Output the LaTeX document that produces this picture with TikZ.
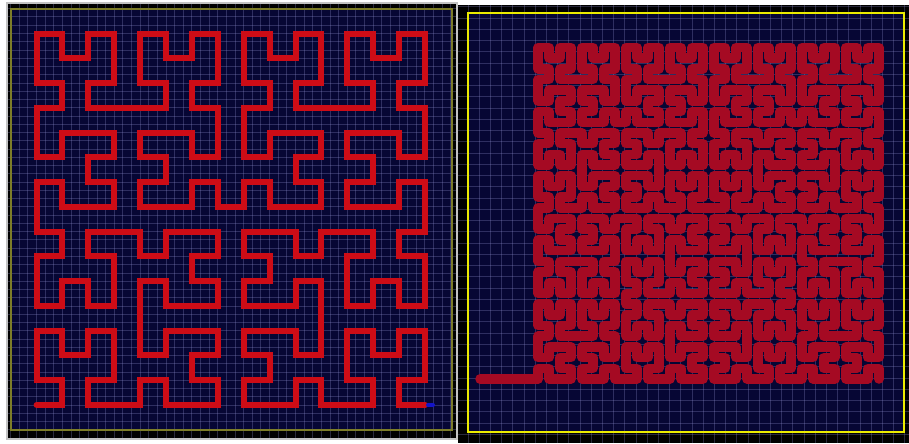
\documentclass[tikz,border=0pt]{standalone}
\usepackage{tikz}
\usetikzlibrary{lindenmayersystems}

\definecolor{navy}{RGB}{6,6,52}
\definecolor{gridcol}{RGB}{150,150,215}
\definecolor{hilred}{RGB}{205,12,22}
\definecolor{hilcrimson}{RGB}{165,10,35}
\definecolor{framegray}{RGB}{195,195,195}
\definecolor{dimyellow}{RGB}{125,125,40}
\definecolor{brightyellow}{RGB}{235,235,0}
\definecolor{endblue}{RGB}{20,20,200}

\pgfdeclarelindenmayersystem{Hilbert}{
  \rule{A -> +BF-AFA-FB+}
  \rule{B -> -AF+BFB+FA-}
}

\begin{document}
\begin{tikzpicture}[x=0.02cm, y=-0.02cm,
    gridline/.style={gridcol, opacity=0.28, line width=0.02cm},
    curveA/.style={hilred, line width=0.12cm, line cap=round, line join=miter},
    curveB/.style={hilcrimson, line width=0.19cm, line cap=round, line join=round}]
  \useasboundingbox (0,0) rectangle (909,443);
  \fill[white] (0,0) rectangle (909,443);
  % left panel, order 4
  \fill[black] (7,3) rectangle (457,439);
  \fill[navy] (11,9) rectangle (452,430);
  \foreach \gx in {10.7,19.33,...,457} \draw[gridline] (\gx,3) -- (\gx,439);
  \foreach \gy in {8.7,16.96,...,439} \draw[gridline] (7,\gy) -- (457,\gy);
  \draw[framegray, line width=0.03cm] (7,3) rectangle (457,439);
  \draw[dimyellow, line width=0.03cm] (11,9) rectangle (452,430);
  \begin{scope}[shift={(36.6,405)}, xscale=0.518, yscale=0.4954]
    \draw[curveA, lindenmayer system={Hilbert, axiom=A, order=4, step=1cm, angle=90}]
      (0,0) lindenmayer system;
  \end{scope}
  \coordinate (endA) at (425,405);
  \coordinate (markA) at (433,405);
  \draw[endblue, line width=0.08cm, line cap=round] (endA) ++(3,0) -- (markA);
  % right panel, order 5
  \fill[black] (458,5) rectangle (909,443);
  \fill[navy] (468,13) rectangle (904,432);
  \foreach \gx in {468,479.2,...,909} \draw[gridline] (\gx,5) -- (\gx,443);
  \foreach \gy in {6.75,18,...,443} \draw[gridline] (458,\gy) -- (909,\gy);
  \draw[brightyellow, line width=0.03cm] (468,13) rectangle (904,432);
  \coordinate (leadin) at (480,379);
  \coordinate (startB) at (538,379);
  \draw[curveB] (leadin) -- (startB);
  \begin{scope}[shift={(startB)}, xscale=0.22, yscale=0.214]
    \draw[curveB, lindenmayer system={Hilbert, axiom=A, order=5, step=1cm, angle=90}]
      (0,0) lindenmayer system;
  \end{scope}
\end{tikzpicture}
\end{document}
